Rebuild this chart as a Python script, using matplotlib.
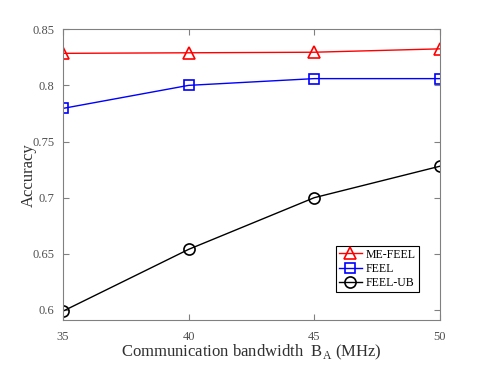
import matplotlib
matplotlib.use('Agg')
import matplotlib.pyplot as plt

plt.rcParams['font.family'] = 'Liberation Serif'
plt.rcParams['mathtext.fontset'] = 'custom'
plt.rcParams['mathtext.rm'] = 'Liberation Serif'

bandwidth = [35, 40, 45, 50]
me_feel = [0.8285, 0.829, 0.8295, 0.8325]
feel = [0.7795, 0.800, 0.806, 0.806]
feel_ub = [0.599, 0.654, 0.700, 0.728]

fig = plt.figure(figsize=(4.85, 3.65), dpi=100)
ax = fig.add_axes([0.130, 0.123, 0.777, 0.797])

ax.plot(bandwidth, me_feel, '-^', color='red', lw=1.0, ms=9, mfc='none', mew=1.2, label='ME-FEEL')
ax.plot(bandwidth, feel, '-s', color='blue', lw=1.0, ms=7, mfc='none', mew=1.2, label='FEEL')
ax.plot(bandwidth, feel_ub, '-o', color='black', lw=1.0, ms=8, mfc='none', mew=1.2, label='FEEL-UB')

ax.set_xlim(35, 50)
ax.set_ylim(0.591, 0.85)
ax.set_xticks([35, 40, 45, 50])
ax.set_yticks([0.6, 0.65, 0.7, 0.75, 0.8, 0.85])
ax.set_yticklabels(['0.6', '0.65', '0.7', '0.75', '0.8', '0.85'])

grey = '#808080'
for s in ax.spines.values():
    s.set_color(grey)
ax.tick_params(direction='in', top=True, right=True, colors=grey, labelcolor='#505050',
               labelsize=9, length=4)
ax.tick_params(axis='x', pad=8)
ax.tick_params(axis='y', pad=6)

ax.set_xlabel('Communication bandwidth  B$_\\mathrm{A}$ (MHz)', fontsize=12, color='#303030', labelpad=0)
ax.set_ylabel('Accuracy', fontsize=12, color='#303030', labelpad=-3)

leg = ax.legend(loc='lower right', bbox_to_anchor=(0.944, 0.096), fontsize=8.5, fancybox=False,
                framealpha=1, edgecolor='black', handlelength=2.0, borderpad=0.25,
                labelspacing=0.2, handletextpad=0.3, borderaxespad=0)
leg.get_frame().set_linewidth(0.8)

fig.savefig('out.png', dpi=100)
